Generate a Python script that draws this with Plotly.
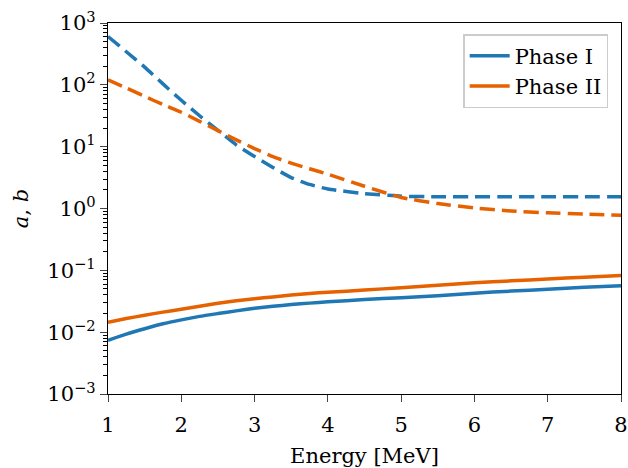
import plotly.graph_objects as go

energy = [1.0, 1.25, 1.5, 1.75, 2.0, 2.25, 2.5, 2.75, 3.0, 3.25, 3.5, 3.75, 4.0,
          4.5, 5.0, 5.5, 6.0, 6.5, 7.0, 7.5, 8.0]

# dashed curves (b)
b_phase1 = [603, 343, 193, 103.5, 56.2, 31.6, 18.4, 10.7, 6.92, 4.62, 3.16, 2.45, 2.07,
            1.74, 1.58, 1.55, 1.55, 1.55, 1.55, 1.55, 1.55]
b_phase2 = [120, 89, 65, 48, 36, 25.7, 18.2, 12.9, 9.3, 6.9, 5.4, 4.4, 3.59,
            2.29, 1.51, 1.20, 1.02, 0.91, 0.85, 0.81, 0.78]

# solid curves (a)
a_phase1 = [0.0074, 0.0093, 0.01135, 0.01365, 0.0158, 0.0180, 0.0200, 0.0221, 0.0243, 0.0262,
            0.0279, 0.0295, 0.0309, 0.0337, 0.0361, 0.0389, 0.0427, 0.0462, 0.0495, 0.0531, 0.0562]
a_phase2 = [0.0145, 0.0166, 0.0188, 0.0211, 0.0234, 0.0263, 0.0293, 0.0321, 0.0347, 0.0372,
            0.0398, 0.0422, 0.0442, 0.0479, 0.0525, 0.0575, 0.0630, 0.0676, 0.0724, 0.0776, 0.0822]

names = ["Phase I", "Phase II"]
colors = ["#1f77b4", "#e66100"]

y_tickvals = [1e-3, 1e-2, 1e-1, 1e0, 1e1, 1e2, 1e3]
y_ticktext = ["10<sup>−3</sup>", "10<sup>−2</sup>", "10<sup>−1</sup>", "10<sup>0</sup>",
              "10<sup>1</sup>", "10<sup>2</sup>", "10<sup>3</sup>"]
x_tickvals = [1, 2, 3, 4, 5, 6, 7, 8]

minor_vals = [m * 10 ** k for k in range(-3, 3) for m in range(2, 10)]

fig = go.Figure()
for a, n, c in [(a_phase1, names[0], colors[0]), (a_phase2, names[1], colors[1])]:
    fig.add_trace(go.Scatter(x=energy, y=a, mode="lines", name=n,
                             line=dict(color=c, width=3.5, shape="spline", smoothing=0.5)))
for b, n, c in [(b_phase1, names[0], colors[0]), (b_phase2, names[1], colors[1])]:
    fig.add_trace(go.Scatter(x=energy, y=b, mode="lines", name=n, showlegend=False,
                             line=dict(color=c, width=3.5, dash="15px,7px", shape="spline", smoothing=0.5)))

font_family = "DejaVu Serif"
fs = 21
fig.update_layout(
    width=628, height=468,
    autosize=False,
    margin=dict(l=108, r=7, t=23, b=74, autoexpand=False),
    plot_bgcolor="white", paper_bgcolor="white",
    font=dict(family=font_family, size=fs, color="black"),
    showlegend=True,
    legend=dict(x=0.975, y=0.97, xanchor="right", yanchor="top",
                bgcolor="rgba(255,255,255,0.8)", bordercolor="#cccccc", borderwidth=1.5,
                font=dict(family=font_family, size=fs), itemwidth=40, tracegroupgap=6),
    xaxis=dict(range=[1, 8], tickvals=x_tickvals, ticks="outside", ticklen=7, tickwidth=1.2,
               automargin=False, ticklabelstandoff=5,
               showline=True, linecolor="black", linewidth=1.2, mirror=True, showgrid=False,
               zeroline=False, tickfont=dict(family=font_family, size=fs),
               title=dict(text="Energy [MeV]", font=dict(family=font_family, size=fs), standoff=12)),
    yaxis=dict(type="log", range=[-3, 3], tickvals=y_tickvals, ticktext=y_ticktext,
               ticks="outside", ticklen=7, tickwidth=1.2, automargin=False,
               showline=True, linecolor="black", linewidth=1.2, mirror=True, showgrid=False,
               zeroline=False, tickfont=dict(family=font_family, size=fs),
               minor=dict(tickvals=minor_vals, ticks="outside", ticklen=4, tickwidth=1, tickcolor="black", showgrid=False),
               title=dict(text="<i>a</i>, <i>b</i>", font=dict(family=font_family, size=fs), standoff=12)),
)

fig.write_html("out.html")
